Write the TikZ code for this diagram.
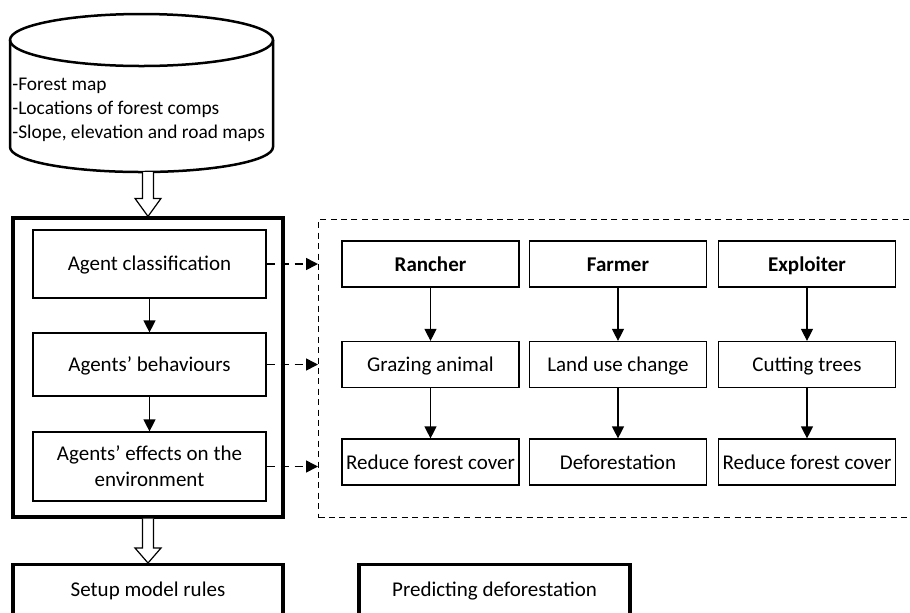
\documentclass[tikz,border=0pt]{standalone}
\usepackage{fontspec}
\setmainfont{Carlito}
\usetikzlibrary{arrows.meta,positioning,calc}
\tikzset{
  stage/.style ={draw,line width=0.6pt,minimum width=116.5pt,align=center,inner sep=2pt},
  role/.style  ={draw,line width=0.6pt,minimum width=88.5pt,minimum height=23pt,inner sep=1pt,
                 text height=9.4pt,text depth=2.4pt},
  frame/.style ={draw,line width=1.6pt},
  store/.style ={draw,line width=1.25pt},
  grp/.style   ={draw,line width=0.5pt,dash pattern=on 3pt off 2.2pt},
  sig/.style   ={-{Triangle[length=6pt,width=6pt]},line width=0.6pt},
  link/.style  ={sig,line width=0.8pt,dash pattern=on 4pt off 3pt},
  hollow/.style={draw,line width=0.6pt,fill=white,line join=miter},
}
\begin{document}
\begin{tikzpicture}[x=0.5pt,y=-0.5pt,font=\fontsize{10.5}{12.5}\selectfont]
\clip (0,0) rectangle (910,612);

% ===== input data (drum drawn by hand, y runs downwards) ===================
\draw[store] (141.5,40) ellipse [x radius=131.5,y radius=26];
\draw[store] (10,40) -- (10,147) arc [start angle=180,end angle=0,x radius=131.5,y radius=25]
  -- (273,40);
\coordinate (dbbot) at (141.5,172);
\node[anchor=north west,align=left,inner sep=0pt,
      font=\fontsize{9.7}{11.8}\selectfont] (db) at (12,78)
  {-Forest map\\-Locations of forest comps\\-Slope, elevation and road maps};

% ===== agent model =========================================================
\node[frame,minimum width=135pt,minimum height=149.5pt] (agents) at (148,367.5) {};
\node[stage,minimum height=34pt,text height=9.2pt,text depth=2.4pt]   (cls) at (149.5,264)
  {Agent classification};
\node[stage,minimum height=31.5pt,text height=9.2pt,text depth=2.4pt] (beh) at (149.5,364.5)
  {Agents' behaviours};
\node[stage,minimum height=34.5pt,font=\fontsize{10.5}{13}\selectfont] (eff) at (149.5,466.5)
  {Agents' effects on the\\environment};
\draw[sig] (cls) -- (beh);
\draw[sig] (beh) -- (eff);

% ===== agent types =========================================================
\node[grp,anchor=north west,minimum width=320pt,minimum height=149pt] (roles) at (318,219) {};
\node[role] (ranch) at (430.5,264) {\textbf{Rancher}};
\node[role] (farm)  at (618,264)   {\textbf{Farmer}};
\node[role] (expl)  at (807,264)   {\textbf{Exploiter}};
\node[role] (graz)  at (430.5,364.5) {Grazing animal};
\node[role] (land)  at (618,364.5)   {Land use change};
\node[role] (cut)   at (807,364.5)   {Cutting trees};
\node[role] (redA)  at (430.5,462) {Reduce forest cover};
\node[role] (defor) at (618,462)   {Deforestation};
\node[role] (redB)  at (807,462)   {Reduce forest cover};
\foreach \a/\b in {ranch/graz,graz/redA,farm/land,land/defor,expl/cut,cut/redB}
  {\draw[sig] (\a) -- (\b);}
\foreach \n in {cls,beh,eff}{\draw[link] (\n.east) -- (\n.east-|roles.west);}

% ===== outputs =============================================================
\node[frame,anchor=north,minimum width=135pt,inner ysep=8pt,
      text height=8pt,text depth=40pt] (setup) at (148,563) {Setup model rules};
\node[frame,anchor=north,minimum width=135.5pt,inner ysep=8pt,
      text height=8pt,text depth=40pt] (pred) at (494.5,563) {Predicting deforestation};

% hollow block arrows
\draw[hollow] ($(agents.north|-dbbot)+(-5.5,0)$) |- ($(agents.north)+(-13,-18)$)
  -- (agents.north) -- ($(agents.north)+(13,-18)$) -| ($(agents.north|-dbbot)+(5.5,0)$);
\draw[hollow] ($(agents.south)+(-5.5,0)$) |- ($(setup.north)+(-13,-15)$)
  -- (setup.north) -- ($(setup.north)+(13,-15)$) -| ($(agents.south)+(5.5,0)$);
\end{tikzpicture}
\end{document}
